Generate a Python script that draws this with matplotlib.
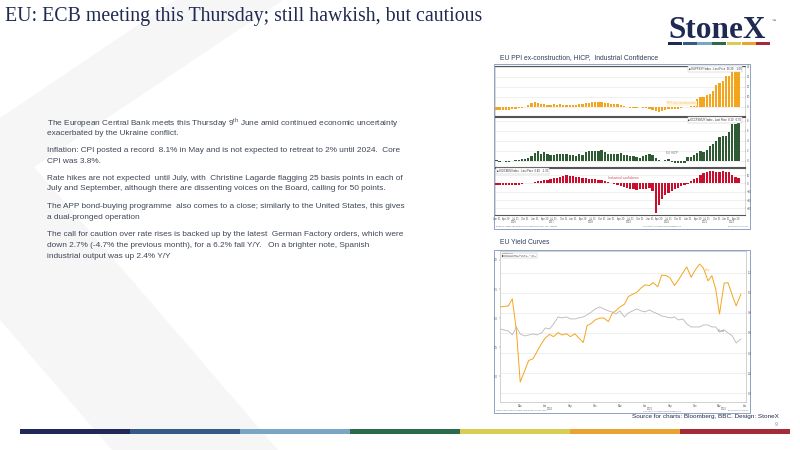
import matplotlib
matplotlib.use("Agg")
import matplotlib.pyplot as plt
import matplotlib.transforms as mtrans
from matplotlib.patches import Polygon, Rectangle
import numpy as np
import pandas as pd

plt.rcParams['font.family'] = ['Liberation Sans', 'DejaVu Sans']

# ---------------- data ----------------
months = pd.period_range('2016-01', '2022-05', freq='M')

# EU PPI ex-construction, % y/y
ppi = [-3.0, -3.3, -3.3, -3.0, -2.6, -2.2, -1.7, -1.2, -0.6, 0.2,
       2.5, 4.3, 4.6, 4.4,
       3.5, 2.6, 2.3, 2.5, 2.6, 2.4, 2.6, 2.3, 2.1, 2.3, 2.5, 2.2, 2.6,
       3.4, 4.0, 4.5, 4.8, 4.9, 5.0, 4.6, 4.0,
       3.6, 3.5, 3.4, 3.0, 2.0,
       0.8, -0.2, -0.8, -1.0, -0.6,
       -0.4, -0.8, -1.0, -1.6, -2.6,
       -4.0, -4.5, -3.8, -2.9,
       -2.4, -2.0, -1.9, -1.6, -1.2, -0.3,
       0.1, 1.5, 4.3, 7.6, 9.6, 10.2, 12.1, 13.4, 16.0, 21.9, 23.7, 26.3,
       30.6, 31.5, 36.9, 37.2, 36.3]

# EU HICP, % y/y
hicp = [0.3, -0.2, 0.0, -0.2, -0.1, 0.1, 0.2, 0.2, 0.4, 0.5, 0.6, 1.1,
        1.7, 2.0, 1.5, 1.9, 1.4, 1.3, 1.3, 1.5, 1.5, 1.4, 1.5, 1.3,
        1.3, 1.1, 1.4, 1.2, 1.9, 2.0, 2.1, 2.0, 2.1, 2.2, 1.9, 1.5,
        1.4, 1.5, 1.4, 1.7, 1.2, 1.3, 1.0, 1.0, 0.8, 0.7, 1.0, 1.3,
        1.4, 1.2, 0.7, 0.3, 0.1, 0.3, 0.4, -0.2, -0.3, -0.3, -0.3, -0.3,
        0.9, 0.9, 1.3, 1.6, 2.0, 1.9, 2.2, 3.0, 3.4, 4.1, 4.9, 5.0,
        5.1, 5.9, 7.4, 7.4, 8.1]

# Industrial confidence, balance
ind_conf = [-1.5, -1.5, -2.0, -1.5, -1.5, -2.0, -2.0, -1.5,
            -0.5, 0.0, 0.3,
            1.0, 2.0, 2.5, 3.0, 3.5, 4.0, 5.0, 6.0, 7.0, 8.0, 9.0, 9.6,
            9.4, 8.5, 8.0, 7.5, 7.0, 6.0, 5.5, 5.0, 5.0, 4.5, 4.0, 3.0, 2.0, 1.0, -0.5, -2.0,
            -3.0, -4.5, -5.5, -6.5, -7.0, -7.5, -7.0, -7.0, -6.5, -6.0, -9.0,
            -36.0, -26.0, -19.0, -14.5, -11.0, -9.0, -7.0, -5.0, -3.0, -1.5, -0.5,
            3.0, 5.0, 7.0, 9.6, 12.0, 14.0,
            14.5, 14.5, 14.0, 14.0, 14.5, 14.0, 14.0,
            9.6, 8.0, 6.5]

# EU yield curves (semi-monthly readings)
curve_dates = pd.date_range('2020-01-01', periods=59, freq='SMS')
curve_orange = [1.19, 1.20, 1.21, 1.33, 0.79, -0.10, 0.10, 0.27, 0.30, 0.42,
                0.56, 0.66, 0.72, 0.68, 0.75, 0.71, 0.73, 0.68, 0.73, 0.66,
                0.58, 0.87, 0.91, 0.97, 1.00, 1.00, 0.94, 1.08, 1.13, 1.19,
                1.24, 1.37, 1.41, 1.44, 1.52, 1.57, 1.56, 1.61, 1.54, 1.74,
                1.73, 1.69, 1.56, 1.65, 1.78, 1.88, 1.70, 1.82, 1.93, 1.86,
                1.64, 1.73, 1.50, 1.07, 1.60, 1.61, 1.39, 1.21, 1.41]
curve_bund = [0.64, 0.63, 0.62, 0.58, 0.66, 0.59, 0.57, 0.58, 0.59, 0.58,
              0.60, 0.65, 0.64, 0.69, 0.76, 0.75, 0.76, 0.74, 0.74, 0.75,
              0.76, 0.78, 0.81, 0.84, 0.86, 0.84, 0.82, 0.81, 0.79, 0.82,
              0.76, 0.80, 0.82, 0.84, 0.82, 0.81, 0.83, 0.81, 0.79, 0.77,
              0.76, 0.75, 0.76, 0.73, 0.74, 0.69, 0.66, 0.66, 0.66, 0.68,
              0.68, 0.66, 0.66, 0.61, 0.63, 0.60, 0.57, 0.50, 0.54]

title = "EU: ECB meeting this Thursday; still hawkish, but cautious"
paragraphs = [
    ["The European Central Bank meets this Thursday 9$^{\\mathregular{th}}$ June amid continued economic uncertainty",
     "exacerbated by the Ukraine conflict."],
    ["Inflation: CPI posted a record  8.1% in May and is not expected to retreat to 2% until 2024.  Core",
     "CPI was 3.8%."],
    ["Rate hikes are not expected  until July, with  Christine Lagarde flagging 25 basis points in each of",
     "July and September, although there are dissenting voices on the Board, calling for 50 points."],
    ["The APP bond-buying programme  also comes to a close; similarly to the United States, this gives",
     "a dual-pronged operation"],
    ["The call for caution over rate rises is backed up by the latest  German Factory orders, which were",
     "down 2.7% (-4.7% the previous month), for a 6.2% fall Y/Y.   On a brighter note, Spanish",
     "industrial output was up 2.4% Y/Y"],
]
para_top = [122.5, 150.7, 178.3, 206.7, 235.0]

brand = ['#1F2858', '#355A86', '#7AA6C6', '#2C6A4C', '#D8CC54', '#E9A332', '#A52B36']
NAVY = '#1F2A52'
TXT = '#3F4756'
ORANGE = '#F4A51E'
GREEN = '#2E5A34'
RED = '#C8102E'

W, H = 800, 450
fig = plt.figure(figsize=(8, 4.5), dpi=100)
fig.patch.set_facecolor('white')


def ax_at(x0, y0, x1, y1, **kw):
    return fig.add_axes([x0 / W, 1 - y1 / H, (x1 - x0) / W, (y1 - y0) / H], **kw)


# ---------- slide background ----------
bg = ax_at(0, 0, 800, 450)
bg.set_xlim(0, 800)
bg.set_ylim(450, 0)
bg.axis('off')
bg.add_patch(Polygon([(175, 0), (283, 0), (0, 190), (0, 118)], closed=True,
                     facecolor='#F6F6F6', edgecolor='none'))
bg.add_patch(Polygon([(0, 127), (0, 320), (112, 450), (278, 450)], closed=True,
                     facecolor='#F6F6F6', edgecolor='none'))

bg.text(5, 17, title, fontsize=14.3, color=NAVY, va='center', ha='left',
        family=['Liberation Serif', 'DejaVu Serif'])

# logo
bg.text(668, 30, "StoneX", fontsize=22.5, fontweight='bold', color=NAVY, va='center',
        ha='left', family=['Liberation Serif', 'DejaVu Serif'])
bg.text(772, 21, "\u2122", fontsize=3, color=NAVY, va='center', ha='left')
seg = (771 - 668) / 7
for i, c in enumerate(brand):
    bg.add_patch(Rectangle((668 + i * seg, 42), seg - 0.6, 2.6, facecolor=c, edgecolor='none'))

# body text
for top, lines in zip(para_top, paragraphs):
    for j, line in enumerate(lines):
        bg.text(46.7, top + j * 10.6, line, fontsize=5.93, color=TXT, va='center', ha='left')

# chart titles
bg.text(500, 57.5, "EU PPI ex-construction, HICP,  Industrial Confidence", fontsize=4.9,
        color='#2F3D5E', va='center', ha='left')
bg.text(500, 242, "EU Yield Curves", fontsize=4.9, color='#2F3D5E', va='center', ha='left')

# chart frames
for (y0, y1) in [(64, 229), (250, 413)]:
    bg.add_patch(Rectangle((494, y0), 256, y1 - y0, facecolor='white',
                           edgecolor='#8FA2C4', lw=0.7))

# footer
bg.text(779, 416.5, "Source for charts: Bloomberg, BBC. Design: StoneX", fontsize=4.6,
        color=NAVY, ha='right', va='center',
        family=['Liberation Sans Narrow', 'Liberation Sans', 'DejaVu Sans'])
bg.text(776, 424, "9", fontsize=3.8, color='#7F8FB0', ha='center', va='center')
seg = (790 - 20) / 7
for i, c in enumerate(brand):
    bg.add_patch(Rectangle((20 + i * seg, 429), seg, 5.3, facecolor=c, edgecolor='none'))

# ---------- chart 1 : three bar panels ----------
x = np.arange(len(months))
panels = [
    (66, 116, ppi, ORANGE, (-9, 41), [0, 10, 20, 30, 40],
     "EUPPEXY Index - Last Price  36.30   -1.09", 'right'),
    (117, 167, hicp, GREEN, (-1.2, 8.8), [0, 2, 4, 6, 8],
     "ECCPEMUY Index - Last Price  8.10   0.70", 'right'),
    (168, 215, ind_conf, RED, (-38, 18.5), [-30, -20, -10, 0, 10],
     "EUICEMU Index - Last Price  6.40   -1.30", 'left'),
]
pax = []
for (y0, y1, vals, col, ylim, yt, leg, legpos) in panels:
    ax = ax_at(494.5, y0, 745, y1)
    ax.bar(x, vals, width=0.72, color=col, zorder=3)
    ax.set_xlim(-0.6, 78.0)
    ax.set_ylim(*ylim)
    ax.set_yticks(yt)
    ax.yaxis.tick_right()
    ax.tick_params(axis='y', labelsize=2.0, length=1, width=0.3, pad=0.6, colors='#555555')
    ax.grid(axis='y', color='#E4E4E4', lw=0.4, zorder=0)
    ax.set_xticks([])
    for s in ['left', 'right']:
        ax.spines[s].set_color('#BBBBBB')
        ax.spines[s].set_linewidth(0.4)
    for s in ['top', 'bottom']:
        ax.spines[s].set_color('#555555')
        ax.spines[s].set_linewidth(0.8)
    lx = 0.985 if legpos == 'right' else 0.01
    ax.text(lx, 0.975, "\u25A0 " + leg, transform=ax.transAxes, fontsize=1.9,
            color='#333333', ha=legpos, va='top',
            bbox=dict(boxstyle='square,pad=0.3', facecolor='white', edgecolor='#BBBBBB', lw=0.3))
    pax.append(ax)

pax[0].text(58, 3.5, "PPI ex-construction", fontsize=2.4, color='#F7C77A', ha='center', va='center',
            bbox=dict(boxstyle='square,pad=0.2', facecolor='#FFF4E0', edgecolor='none'))
pax[1].text(55, 1.6, "EU HICP", fontsize=2.2, color='#777777', ha='center', va='center')
pax[2].text(40, 7, "Industrial confidence", fontsize=2.4, color='#D0506A', ha='center', va='center')

ax3 = pax[2]
tick_idx = x[::3]
ax3.set_xticks(tick_idx)
ax3.set_xticklabels([f"{months[i].strftime('%b')} {months[i].days_in_month}" for i in tick_idx])
ax3.tick_params(axis='x', labelsize=1.8, length=1, width=0.3, pad=0.6, colors='#555555')
trans = mtrans.blended_transform_factory(ax3.transData, ax3.transAxes)
for yr in range(2016, 2023):
    idx = [i for i, p in enumerate(months) if p.year == yr]
    ax3.text(np.mean(idx), -0.1, str(yr), transform=trans, fontsize=1.9,
             color='#555555', ha='center', va='top')
bg.text(496, 226.5, "EUPPEXY Index (Eurostat PPI Ex Construction EU YoY)  Monthly",
        fontsize=1.5, color='#666666', ha='left', va='center')
bg.text(662, 226.5, "Copyright\u00a9 2022 Bloomberg Finance L.P.", fontsize=1.5, color='#666666',
        ha='center', va='center')
bg.text(748, 226.5, "08-Jun-2022 09:44:17", fontsize=1.5, color='#666666', ha='right', va='center')

# ---------- chart 2 : yield curves ----------
axr = ax_at(500, 251, 746, 402)
axr.plot(curve_dates, curve_bund, color='#B8B8B8', lw=0.6, zorder=3)
axr.set_ylim(-0.089, 1.418)
axr.set_yticks(np.round(np.arange(0, 1.21, 0.2), 1))
axr.grid(axis='y', color='#E8E8E8', lw=0.5, zorder=0)
axl = axr.twinx()
axr.yaxis.tick_right()
axr.tick_params(axis='y', labelsize=2.0, length=1, width=0.3, pad=0.6, colors='#555555')
axl.plot(curve_dates, curve_orange, color=ORANGE, lw=0.7, zorder=4)
axl.set_ylim(-0.444, 2.154)
axl.set_yticks([0, 0.5, 1.0, 1.5, 2.0])
axl.yaxis.tick_left()
axl.tick_params(axis='y', labelsize=2.0, length=1, width=0.3, pad=0.6, colors='#555555')
xlo, xhi = pd.Timestamp('2020-01-01'), pd.Timestamp('2022-06-20')
axr.set_xlim(xlo, xhi)
for a in (axr, axl):
    for s in a.spines.values():
        s.set_color('#C8C8C8')
        s.set_linewidth(0.4)
xt = [pd.Timestamp(y, m, 15) for y in (2020, 2021, 2022) for m in (3, 6, 9, 12)
      if pd.Timestamp(y, m, 15) < xhi]
axr.set_xticks(xt)
axr.set_xticklabels([d.strftime('%b') for d in xt])
axr.tick_params(axis='x', labelsize=1.9, length=1, width=0.3, pad=0.6, colors='#555555')
trans2 = mtrans.blended_transform_factory(axr.transData, axr.transAxes)
for d, lab in [(pd.Timestamp('2020-07-01'), '2020'), (pd.Timestamp('2021-07-01'), '2021'),
               (pd.Timestamp('2022-04-01'), '2022')]:
    axr.text(d, -0.03, lab, transform=trans2, fontsize=1.9, color='#555555', ha='center', va='top')
axl.text(pd.Timestamp('2022-01-20'), 1.82, "Italy", fontsize=2.2, color='#F6C27A', ha='left', va='center')
axr.text(pd.Timestamp('2022-03-10'), 0.62, "Bund", fontsize=2.2, color='#999999', ha='left', va='center')
axr.text(0.01, 0.985, "Last Price\n\u25A0 GTITL Index  10Y-2Y    1.41\n\u25A0 GTDEM Index  10Y-2Y    0.54",
         transform=axr.transAxes, fontsize=1.7, color='#333333', ha='left', va='top', zorder=6,
         bbox=dict(boxstyle='square,pad=0.3', facecolor='white', edgecolor='#BBBBBB', lw=0.3))
bg.text(496, 410.8, "GDEU Index (German Govt Yield Curve) 2Y-10Y  Daily",
        fontsize=1.5, color='#666666', ha='left', va='center')
bg.text(662, 410.8, "Copyright\u00a9 2022 Bloomberg Finance L.P.", fontsize=1.5, color='#666666',
        ha='center', va='center')
bg.text(748, 410.8, "08-Jun-2022 09:51:02", fontsize=1.5, color='#666666', ha='right', va='center')

fig.savefig('out.png', dpi=100)
